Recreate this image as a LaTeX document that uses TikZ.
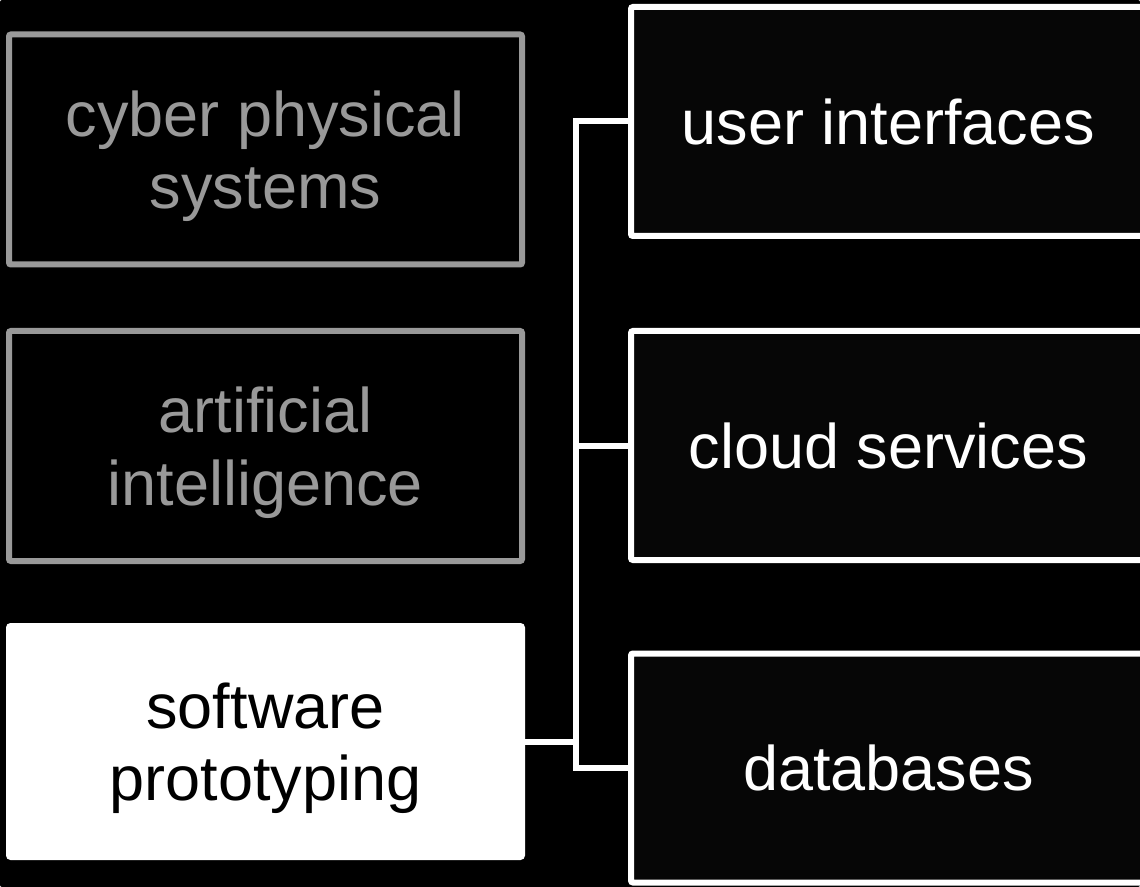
\documentclass[tikz,border=0pt]{standalone}
\usepackage{fontspec}
\setmainfont{Liberation Sans}
\definecolor{dimgrey}{HTML}{999999}
\definecolor{boxblack}{HTML}{060606}

\begin{document}
\begin{tikzpicture}
    [x=0.5pt,y=-0.5pt,line width=3pt,rounded corners=1pt,
     font=\fontsize{31.5}{36.3}\selectfont,
     oldtopic/.style={draw=dimgrey,text=dimgrey,align=center,text depth=0pt,
       minimum width=256.5pt,minimum height=115pt,inner sep=0pt},
     curtopic/.style={draw=white,fill=white,text=black,align=center,text depth=0pt,
       minimum width=256.5pt,minimum height=115.5pt,inner sep=0pt},
     subtopic/.style={draw=white,fill=boxblack,text=white,
       minimum width=257.5pt,minimum height=114.5pt,inner sep=0pt}]

    % background:
    \fill [black] (0, 0) rectangle (1140, 887);
    \useasboundingbox (0, 0) rectangle (1140, 887);

    % left topics:
    \node (cps) at (265.5, 149.5) [oldtopic] {cyber physical\\systems};
    \node (ai) at (265.5, 446) [oldtopic] {artificial\\intelligence};
    \node (sp) at (265.5, 741.5) [curtopic] {software\\prototyping};

    % right topics:
    \node (ui) at (888.5, 121.5) [subtopic] {user interfaces};
    \node (cs) at (888.5, 445.5) [subtopic] {cloud services};
    \node (db) at (888.5, 768) [subtopic] {databases};

    % connect nodes:
    \coordinate (hub) at (576, 741.5);

    \draw [white,rounded corners=0pt] (sp.east) to (hub);
    \draw [white,rounded corners=0pt] (hub) |- (ui.west);
    \draw [white,rounded corners=0pt] (hub) |- (cs.west);
    \draw [white,rounded corners=0pt] (hub) |- (db.west);

  \end{tikzpicture}
\end{document}
